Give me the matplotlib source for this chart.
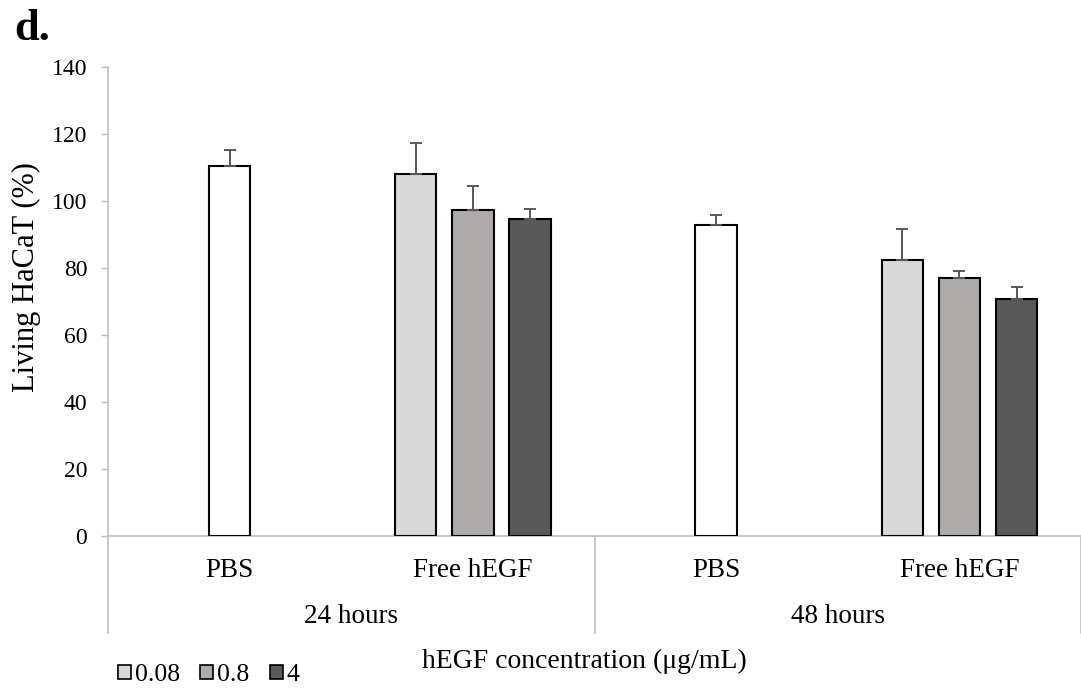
import matplotlib
matplotlib.use('Agg')
import matplotlib.pyplot as plt
import matplotlib.patches as mpatches
import numpy as np

plt.rcParams['font.family'] = ['Liberation Serif', 'DejaVu Serif']

categories = ['PBS', 'Free hEGF', 'PBS', 'Free hEGF']
groups = ['24 hours', '48 hours']
series_names = ['0.08', '0.8', '4']
series_colors = ['#d9d9d9', '#afabab', '#595959']

# None = no bar in that slot (PBS only has a single bar)
vals_008 = [None, 108.1, None, 82.5]
vals_08 = [110.5, 97.3, 92.7, 77.1]
vals_4 = [None, 94.7, None, 70.8]
err_008 = [None, 9.3, None, 9.0]
err_08 = [4.7, 7.2, 3.1, 2.0]
err_4 = [None, 2.9, None, 3.6]

values = [vals_008, vals_08, vals_4]
errors = [err_008, err_08, err_4]

fig = plt.figure(figsize=(10.81, 6.88), dpi=100)
ax = fig.add_axes([108 / 1081, 1 - 536 / 688, 1 - 108 / 1081, 469 / 688])

x = np.arange(len(categories))
width = 0.17
offsets = [-0.235, 0, 0.235]

for s in range(3):
    for i in range(len(categories)):
        v = values[s][i]
        if v is None:
            continue
        face = series_colors[s]
        if categories[i] == 'PBS':
            face = 'white'
        ax.bar(x[i] + offsets[s], v, width, color=face, edgecolor='black', linewidth=1.5, zorder=3)
        ax.errorbar(x[i] + offsets[s], v, yerr=[[0], [errors[s][i]]], fmt='none',
                    ecolor='#595959', elinewidth=1.4, capsize=4.5, capthick=1.4, zorder=4)

ax.set_xlim(-0.5, len(categories) - 0.5)
ax.set_ylim(0, 140)
ax.set_yticks(range(0, 141, 20))
ax.tick_params(axis='y', labelsize=17, length=5, width=1, color='#bfbfbf', pad=10)
ax.set_xticks([])
for side in ['top', 'right']:
    ax.spines[side].set_visible(False)
for side in ['left', 'bottom']:
    ax.spines[side].set_color('#bfbfbf')
    ax.spines[side].set_linewidth(1.2)

trans = ax.get_xaxis_transform()
for i, c in enumerate(categories):
    ax.text(x[i], -0.073, c, transform=trans, ha='center', va='center', fontsize=19.5, clip_on=False)
for g, name in enumerate(groups):
    ax.text(2 * g + 0.5, -0.171, name, transform=trans, ha='center', va='center', fontsize=19.5, clip_on=False)
for xs in [-0.5, 1.5, 3.5]:
    ax.plot([xs, xs], [0, -0.207], transform=trans, color='#bfbfbf', lw=1.2, clip_on=False)

fig.text(26 / 1081, 1 - 277 / 688, 'Living HaCaT (%)', rotation=90, ha='center', va='center', fontsize=22)
fig.text(584 / 1081, 1 - 661 / 688, 'hEGF concentration (\u03bcg/mL)', ha='center', va='center', fontsize=20)
fig.text(14 / 1081, 1 - 29 / 688, 'd.', ha='left', va='center', fontsize=32, fontweight='bold')

handles = [mpatches.Patch(facecolor=c, edgecolor='black', linewidth=1.2) for c in series_colors]
fig.legend(handles, series_names, loc='center left', bbox_to_anchor=(118 / 1081, 1 - 675 / 688),
           ncol=3, frameon=False, fontsize=18.5, handlelength=0.5, handleheight=0.5,
           handletextpad=0.15, columnspacing=0.8, borderaxespad=0, borderpad=0)

fig.savefig('out.png', dpi=100)
